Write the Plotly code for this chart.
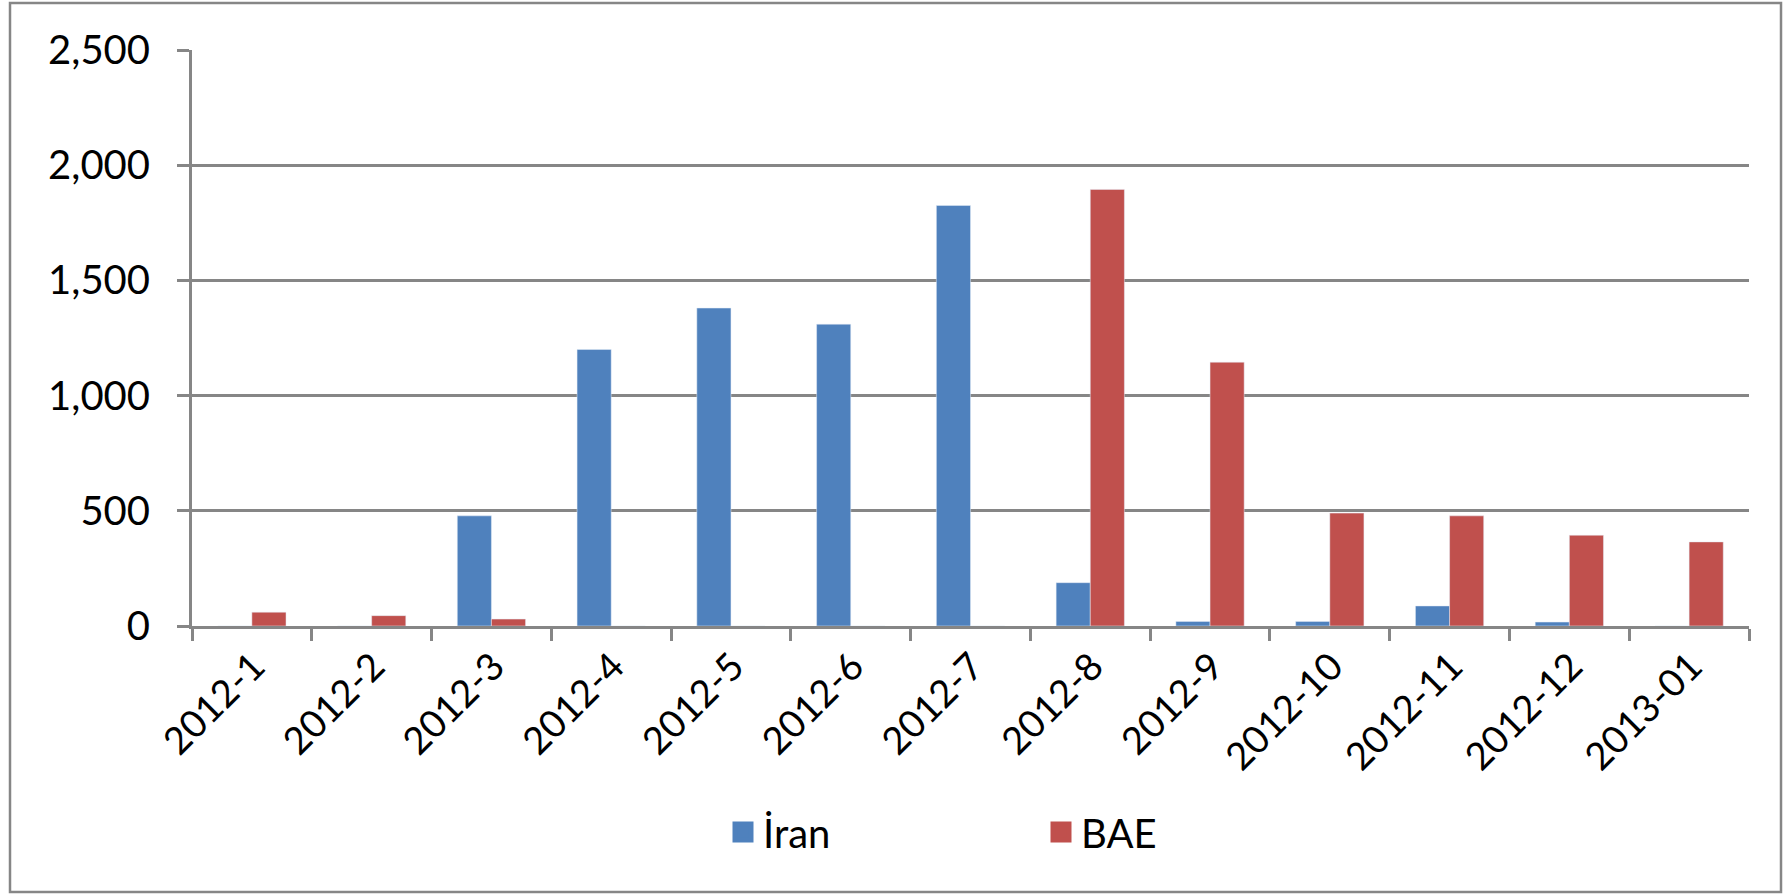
import plotly.graph_objects as go

categories = ["2012-1", "2012-2", "2012-3", "2012-4", "2012-5", "2012-6", "2012-7",
              "2012-8", "2012-9", "2012-10", "2012-11", "2012-12", "2013-01"]
iran = [0, 0, 478, 1200, 1380, 1310, 1825, 188, 20, 20, 87, 17, 0]
bae = [60, 45, 30, 0, 0, 0, 0, 1895, 1145, 490, 478, 394, 365]
y_ticks = [0, 500, 1000, 1500, 2000, 2500]
y_tick_text = ["0", "500", "1,000", "1,500", "2,000", "2,500"]
series_names = ["İran", "BAE"]
series_colors = ["#4F81BD", "#C0504D"]

FONT = "Lato"
W, H = 1789, 895
L, R, T, B = 192, 40, 50, 269
pw, ph = W - L - R, H - T - B

def px_x(p):
    return (p - L) / pw

def px_y(p):
    return (H - B - p) / ph

fig = go.Figure()
for name, vals, col in zip(series_names, [iran, bae], series_colors):
    fig.add_trace(go.Bar(x=categories, y=vals, name=name, marker=dict(color=col),
                         showlegend=False))
# legend entries with larger square swatches
for name, col in zip(series_names, series_colors):
    fig.add_trace(go.Scatter(x=[None], y=[None], mode="markers", name=name,
                             marker=dict(symbol="square", size=16, color=col,
                                         line=dict(color=col, width=5))))

fig.update_layout(
    width=W, height=H,
    margin=dict(l=L, r=R, t=T, b=B),
    paper_bgcolor="white", plot_bgcolor="white",
    barmode="group", bargap=0.43, bargroupgap=0,
    font=dict(family=FONT, size=40, color="black"),
    showlegend=True,
    legend=dict(orientation="h", x=px_x(723), y=px_y(832), xanchor="left", yanchor="middle",
                font=dict(family=FONT, size=40, color="black"),
                entrywidth=273, entrywidthmode="pixels", bgcolor="rgba(0,0,0,0)"),
    shapes=[dict(type="rect", xref="paper", yref="paper",
                 x0=px_x(10), x1=px_x(1781), y0=px_y(892), y1=px_y(3),
                 line=dict(color="#868686", width=2.5), layer="below")],
)

fig.update_xaxes(
    type="category", tickangle=-45, tickson="boundaries",
    ticks="outside", ticklen=12, tickwidth=3, tickcolor="#868686",
    showline=True, linecolor="#868686", linewidth=3,
    showgrid=False, ticklabelstandoff=0, ticklabelshift=2,
    tickfont=dict(family=FONT, size=38, color="black"),
)
fig.update_yaxes(
    range=[0, 2500], tickvals=y_ticks, ticktext=y_tick_text,
    ticks="outside", ticklen=12, tickwidth=3, tickcolor="#868686",
    showline=True, linecolor="#868686", linewidth=3,
    showgrid=True, gridcolor="#868686", gridwidth=2.5,
    zeroline=False, ticklabelstandoff=19,
    tickfont=dict(family=FONT, size=40, color="black"),
)

fig.write_html("out.html", config={"displayModeBar": False},
               post_script="document.body.style.margin='0px';")
